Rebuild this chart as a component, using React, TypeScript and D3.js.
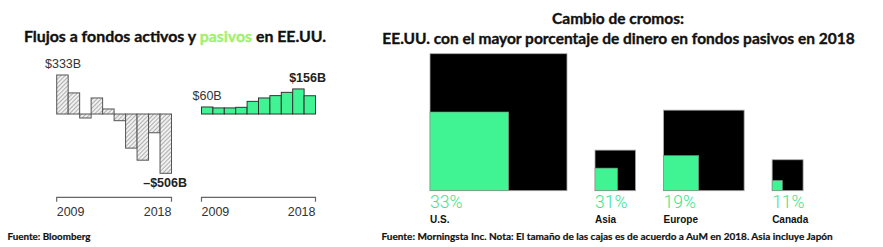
import React from "react";
import * as d3 from "d3";

const years = ["2009", "2010", "2011", "2012", "2013", "2014", "2015", "2016", "2017", "2018"];
const activeFlows = [333, 180, -34, 137, 43, -57, -291, -394, -160, -506];
const passiveFlows = [60, 52, 52, 57, 108, 137, 157, 185, 214, 156];
const activeLabels = ["$333B", "–$506B"];
const passiveLabels = ["$60B", "$156B"];

const regions = ["U.S.", "Asia", "Europe", "Canada"];
const passiveShare = [33, 31, 19, 11];
const aum = [18.8, 1.65, 6.5, 0.96];

const GREEN = "#41f493";
const PCT_GREEN = "#3ee48c";
const LIME = "#a2f06e";
const SANS = "'Liberation Sans', Arial, sans-serif";
const TITLE = "Lato, 'Open Sans', sans-serif";

export default function App() {
  const y = d3.scaleLinear().domain([-506, 333]).range([173.3, 75]);
  const xA = d3.scaleBand<string>().domain(years).range([56.7, 171.5]).padding(0);
  const xP = d3.scaleBand<string>().domain(years).range([201.5, 315.5]).padding(0);
  const y0 = y(0);

  const side = d3.scaleSqrt().domain([0, d3.max(aum) as number]).range([0, 137]);
  const gap = 28;
  const baseY = 190.7;
  const lefts: number[] = [];
  let acc = 430;
  aum.forEach((v) => {
    lefts.push(acc);
    acc += side(v) + gap;
  });

  const bracket = (x0: number, x1: number, yy: number) =>
    `M${x0},${yy + 4.5}V${yy}H${x1}V${yy + 4.5}`;

  const titleStyle = {
    fontFamily: TITLE,
    fontWeight: 700,
    stroke: "#111",
    strokeWidth: 0.35,
  } as React.CSSProperties;

  return (
    <svg
      width={883}
      height={247}
      style={{ position: "absolute", left: 0, top: 0, background: "#fff" }}
    >
      <defs>
        <pattern
          id="hatch"
          width={3}
          height={3}
          patternUnits="userSpaceOnUse"
          patternTransform="rotate(45)"
        >
          <rect width={3} height={3} fill="#f0f0f0" />
          <line x1={0} y1={0} x2={0} y2={3} stroke="#7a7a7a" strokeWidth={1.1} />
        </pattern>
      </defs>

      {/* Left title */}
      <text x={175} y={42} textAnchor="middle" style={titleStyle} fontSize={15.9} fill="#111">
        Flujos a fondos activos y{" "}
        <tspan fill={LIME} stroke={LIME}>pasivos</tspan> en EE.UU.
      </text>

      {/* Active bars */}
      {activeFlows.map((v, i) => (
        <rect
          key={"a" + i}
          x={xA(years[i])}
          width={xA.bandwidth()}
          y={Math.min(y(v), y0)}
          height={Math.abs(y(v) - y0)}
          fill="url(#hatch)"
          stroke="#555"
          strokeWidth={1}
        />
      ))}
      {/* Passive bars */}
      {passiveFlows.map((v, i) => (
        <rect
          key={"p" + i}
          x={xP(years[i])}
          width={xP.bandwidth()}
          y={Math.min(y(v), y0)}
          height={Math.abs(y(v) - y0)}
          fill={GREEN}
          stroke="#333"
          strokeWidth={1}
        />
      ))}

      {/* value labels */}
      <text x={45} y={68} fontFamily={SANS} fontSize={12.5} fill="#333">{activeLabels[0]}</text>
      <text x={187} y={187} textAnchor="end" fontFamily={SANS} fontSize={12.5} fontWeight={700} fill="#222">{activeLabels[1]}</text>
      <text x={192.5} y={99.5} fontFamily={SANS} fontSize={12.5} fill="#333">{passiveLabels[0]}</text>
      <text x={326} y={82} textAnchor="end" fontFamily={SANS} fontSize={12.5} fontWeight={700} fill="#222">{passiveLabels[1]}</text>

      {/* brackets */}
      <path d={bracket(xA.range()[0], xA.range()[1], 197.3)} fill="none" stroke="#666" strokeWidth={1.2} />
      <path d={bracket(xP.range()[0], xP.range()[1], 197.3)} fill="none" stroke="#666" strokeWidth={1.2} />
      <text x={xA.range()[0]} y={216} fontFamily={SANS} fontSize={12.5} fill="#333">{years[0]}</text>
      <text x={xA.range()[1]} y={216} textAnchor="end" fontFamily={SANS} fontSize={12.5} fill="#333">{years[years.length - 1]}</text>
      <text x={xP.range()[0]} y={216} fontFamily={SANS} fontSize={12.5} fill="#333">{years[0]}</text>
      <text x={xP.range()[1]} y={216} textAnchor="end" fontFamily={SANS} fontSize={12.5} fill="#333">{years[years.length - 1]}</text>

      <text x={7.5} y={240} fontFamily={TITLE} fontWeight={700} fontSize={9.8} fill="#111" stroke="#111" strokeWidth={0.2}>Fuente: Bloomberg</text>

      {/* Right title */}
      <text x={618} y={23.5} textAnchor="middle" style={titleStyle} fontSize={15.5} fill="#111">Cambio de cromos:</text>
      <text x={618.5} y={43.5} textAnchor="middle" style={titleStyle} fontSize={15.5} fill="#111">EE.UU. con el mayor porcentaje de dinero en fondos pasivos en 2018</text>

      {/* squares */}
      {aum.map((v, i) => {
        const s = side(v);
        const g = s * Math.sqrt(passiveShare[i] / 100);
        const x = lefts[i];
        return (
          <g key={"s" + i}>
            <rect x={x} y={baseY - s} width={s} height={s} fill="#000" stroke="#aaa" strokeWidth={0.8} />
            <rect x={x} y={baseY - g} width={g} height={g} fill={GREEN} stroke="#888" strokeWidth={0.6} />
            <text x={x} y={208} fontFamily="Roboto, 'Liberation Sans', sans-serif" fontWeight={300} fontSize={17.5} fill={PCT_GREEN}>
              {passiveShare[i]}%
            </text>
            <text x={x} y={223} fontFamily={SANS} fontWeight={700} fontSize={10} fill="#111">
              {regions[i]}
            </text>
          </g>
        );
      })}

      <text x={381.5} y={240} fontFamily={TITLE} fontWeight={700} fontSize={10} fill="#111" stroke="#111" strokeWidth={0.2}>
        Fuente: Morningsta Inc.  Nota: El tamaño de las cajas es de acuerdo a AuM en 2018. Asia incluye Japón
      </text>
    </svg>
  );
}
